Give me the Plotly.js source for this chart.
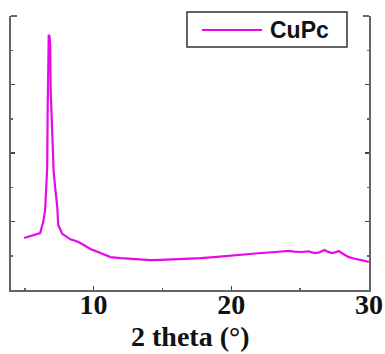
<!DOCTYPE html>
<html>
<head>
<meta charset="utf-8">
<script src="https://cdn.plot.ly/plotly-3.0.1.min.js"></script>
<style>html,body{margin:0;padding:0;background:#fff;}#chart{width:385px;height:354px;}</style>
</head>
<body>
<div id="chart"></div>
<script>
// 2 theta (degrees)
const twoTheta = [4.95, 5.53, 6.12, 6.34, 6.48, 6.55, 6.63, 6.66, 6.70, 6.74, 6.80, 6.85, 6.88, 6.92, 7.03, 7.10, 7.21, 7.36, 7.43, 7.72, 8.31, 8.67, 9.04, 9.77, 10.5, 11.23, 11.96, 12.7, 13.42, 14.15, 14.88, 15.9, 16.85, 17.8, 18.74, 19.5, 20.2, 21.2, 22.18, 23.2, 24.15, 24.6, 25.1, 25.6, 26.04, 26.4, 26.77, 27.0, 27.28, 27.55, 27.8, 28.1, 28.53, 28.9, 29.26, 29.6, 29.99];
// intensity (a.u.)
const intensity = [1.52, 1.58, 1.66, 1.99, 2.34, 2.92, 3.59, 5.17, 6.5, 7.45, 7.4, 7.15, 5.84, 5.31, 4.09, 3.45, 2.98, 2.42, 1.90, 1.64, 1.48, 1.44, 1.37, 1.20, 1.08, 0.96, 0.93, 0.91, 0.88, 0.87, 0.88, 0.89, 0.91, 0.93, 0.96, 0.99, 1.02, 1.05, 1.08, 1.11, 1.14, 1.12, 1.11, 1.13, 1.08, 1.10, 1.17, 1.12, 1.08, 1.10, 1.14, 1.06, 0.96, 0.92, 0.88, 0.86, 0.82];
const seriesName = 'CuPc';
const xTickVals = [10, 20, 30];
const xTickText = ['10', '20', '30'];
const xMinorVals = [5, 15, 25];

const W = 358, H = 274; // plot area px
const px = v => v / W, py = v => v / H;

const trace = {
  x: twoTheta, y: intensity, type: 'scatter', mode: 'lines', name: seriesName,
  line: {color: '#e60ae6', width: 2.2}, showlegend: false
};

const axisCol = '#666';
const serif = 'Liberation Serif, Times New Roman, serif';
const layout = {
  width: 385, height: 354,
  margin: {l: 11, r: 16, t: 16, b: 64},
  paper_bgcolor: '#fff', plot_bgcolor: '#fff',
  showlegend: false,
  xaxis: {
    range: [4, 30], showgrid: false, zeroline: false,
    showline: true, linecolor: axisCol, linewidth: 2, mirror: false,
    ticks: 'inside', ticklen: 4, tickwidth: 1.5, tickcolor: '#444',
    tickvals: xTickVals, ticktext: xTickText,
    minor: {tickvals: xMinorVals, ticks: 'inside', ticklen: 2, tickcolor: '#666', showgrid: false},
    tickfont: {family: serif, size: 28, color: '#111', weight: 'bold'},
    ticklabelstandoff: -12,
    automargin: false
  },
  yaxis: {
    range: [0, 8], showgrid: false, zeroline: false,
    showline: true, linecolor: axisCol, linewidth: 2, mirror: 'ticks',
    ticks: 'inside', ticklen: 4, tickwidth: 1.5, tickcolor: '#444',
    dtick: 2, tick0: 0, showticklabels: false,
    minor: {dtick: 1, ticks: 'inside', ticklen: 2, tickcolor: '#666', showgrid: false},
    automargin: false
  },
  shapes: [
    {type: 'line', xref: 'paper', yref: 'paper', x0: 0, x1: px(6), y0: 1, y1: 1, line: {color: axisCol, width: 2}},
    {type: 'line', xref: 'paper', yref: 'paper', x0: 1, x1: 1 - px(6), y0: 1, y1: 1, line: {color: axisCol, width: 2}},
    {type: 'rect', xref: 'paper', yref: 'paper', x0: px(176), x1: px(336), y0: 1 - py(31), y1: 1 + py(4), line: {color: '#333', width: 1.5}, fillcolor: '#fff'},
    {type: 'line', xref: 'paper', yref: 'paper', x0: px(191), x1: px(251), y0: 1 - py(14), y1: 1 - py(14), line: {color: '#e60ae6', width: 2.2}}
  ],
  annotations: [
    {xref: 'paper', yref: 'paper', x: px(257), y: 1 - py(14), xanchor: 'left', yanchor: 'middle',
     text: '<b>' + seriesName + '</b>', showarrow: false,
     font: {family: 'Liberation Sans, Arial, sans-serif', size: 23, color: '#111'}},
    {xref: 'paper', yref: 'paper', x: 0.5, y: -py(64), xanchor: 'center', yanchor: 'bottom',
     text: '<b>2 theta (°)</b>', showarrow: false,
     font: {family: serif, size: 28, color: '#111'}}
  ]
};

Plotly.newPlot('chart', [trace], layout, {displayModeBar: false, staticPlot: true});
</script>
</body>
</html>
